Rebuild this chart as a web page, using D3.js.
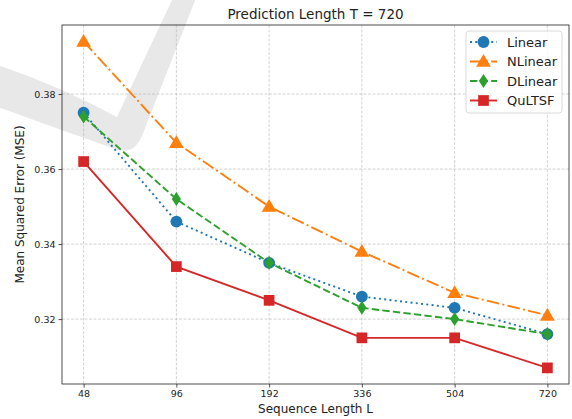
<!DOCTYPE html>
<html>
<head>
<meta charset="utf-8">
<script src="https://cdn.jsdelivr.net/npm/d3@7"></script>
<style>
  body { margin: 0; background: #fff; }
  text { font-family: "DejaVu Sans", sans-serif; fill: #222; }
</style>
</head>
<body>
<div id="chart"></div>
<script>
(function() {
    var width = 572,
        height = 419;

    var seqLengths = ["48", "96", "192", "336", "504", "720"];
    var linearMSE  = [0.375, 0.346, 0.335, 0.326, 0.323, 0.316];
    var nlinearMSE = [0.394, 0.367, 0.350, 0.338, 0.327, 0.321];
    var dlinearMSE = [0.374, 0.352, 0.335, 0.323, 0.320, 0.316];
    var qultsfMSE  = [0.362, 0.334, 0.325, 0.315, 0.315, 0.307];
    var yTicks = [0.32, 0.34, 0.36, 0.38];

    var series = [
        { name: "Linear",  values: linearMSE,  color: "#1f77b4", dash: "2,3.3",          marker: "circle" },
        { name: "NLinear", values: nlinearMSE, color: "#ff7f0e", dash: "12.8,3.2,2,3.2", marker: "triangle" },
        { name: "DLinear", values: dlinearMSE, color: "#2ca02c", dash: "7.4,3.2",        marker: "diamond" },
        { name: "QuLTSF",  values: qultsfMSE,  color: "#d62728", dash: null,             marker: "square" }
    ];

    var margin = { top: 25, right: 3, bottom: 35, left: 62 };
    var innerW = width - margin.left - margin.right,
        innerH = height - margin.top - margin.bottom;

    var svg = d3.select("#chart")
        .append("svg")
        .attr("width", width)
        .attr("height", height);

    // faint grey watermark behind the plot
    svg.append("path")
        .attr("d", "M-5,64 Q60,86 117,117 L173,-2 L196,-2 L142,136 Q134,154 118,150 Q55,128 -5,106 Z")
        .attr("fill", "#e8e8e8");

    var g = svg.append("g")
        .attr("transform", "translate(" + margin.left + "," + margin.top + ")");

    var x = d3.scalePoint()
        .domain(seqLengths)
        .range([0, innerW])
        .padding(0.233);

    var y = d3.scaleLinear()
        .domain([0.3027, 0.3984])
        .range([innerH, 0]);

    // grid
    g.append("g").selectAll("line")
        .data(seqLengths)
        .enter().append("line")
        .attr("x1", function(d) { return x(d); })
        .attr("x2", function(d) { return x(d); })
        .attr("y1", 0).attr("y2", innerH)
        .attr("stroke", "#b0b0b0").attr("stroke-opacity", 0.7)
        .attr("stroke-width", 0.8).attr("stroke-dasharray", "3,1.5");

    g.append("g").selectAll("line")
        .data(yTicks)
        .enter().append("line")
        .attr("y1", function(d) { return y(d); })
        .attr("y2", function(d) { return y(d); })
        .attr("x1", 0).attr("x2", innerW)
        .attr("stroke", "#b0b0b0").attr("stroke-opacity", 0.7)
        .attr("stroke-width", 0.8).attr("stroke-dasharray", "3,1.5");

    // axes
    var xAxis = g.append("g")
        .attr("transform", "translate(0," + innerH + ")")
        .call(d3.axisBottom(x).tickSize(3.5).tickPadding(3));
    var yAxis = g.append("g")
        .call(d3.axisLeft(y).tickValues(yTicks).tickFormat(d3.format(".2f")).tickSize(3.5).tickPadding(3));

    [xAxis, yAxis].forEach(function(a) {
        a.select(".domain").remove();
        a.selectAll("text").style("font-size", "9.5px").attr("fill", "#222");
        a.selectAll(".tick line").attr("stroke", "#222").attr("stroke-width", 0.8);
    });

    g.append("rect")
        .attr("width", innerW).attr("height", innerH)
        .attr("fill", "none").attr("stroke", "#222").attr("stroke-width", 0.8);

    var symbols = {
        circle:   d3.symbol().type(d3.symbolCircle).size(110),
        triangle: d3.symbol().type(d3.symbolTriangle).size(95),
        square:   d3.symbol().type(d3.symbolSquare).size(115)
    };

    function drawMarker(sel, kind, color) {
        if (kind === "diamond") {
            sel.append("path")
                .attr("d", "M0,-7L4.6,0L0,7L-4.6,0Z")
                .attr("fill", color);
        } else {
            sel.append("path")
                .attr("d", symbols[kind]())
                .attr("fill", color)
                .attr("transform", kind === "triangle" ? "translate(0,1)" : null);
        }
    }

    var line = d3.line()
        .x(function(d, i) { return x(seqLengths[i]); })
        .y(function(d) { return y(d); });

    series.forEach(function(s) {
        g.append("path")
            .datum(s.values)
            .attr("d", line)
            .attr("fill", "none")
            .attr("stroke", s.color)
            .attr("stroke-width", 1.9)
            .attr("stroke-dasharray", s.dash);

        g.selectAll(".m-" + s.name)
            .data(s.values)
            .enter().append("g")
            .attr("transform", function(d, i) {
                return "translate(" + x(seqLengths[i]) + "," + y(d) + ")";
            })
            .each(function() { drawMarker(d3.select(this), s.marker, s.color); });
    });

    // legend
    var legend = svg.append("g").attr("transform", "translate(466,31)");
    legend.append("rect")
        .attr("width", 96).attr("height", 82).attr("rx", 3)
        .attr("fill", "#fff").attr("fill-opacity", 0.8)
        .attr("stroke", "#d0d0d0").attr("stroke-width", 0.8);

    series.forEach(function(s, i) {
        var row = legend.append("g").attr("transform", "translate(0," + (11 + i * 19.5) + ")");
        row.append("line")
            .attr("x1", 4).attr("x2", 31)
            .attr("stroke", s.color).attr("stroke-width", 1.9)
            .attr("stroke-dasharray", s.dash);
        var mk = row.append("g").attr("transform", "translate(17.5,0)");
        drawMarker(mk, s.marker, s.color);
        row.append("text")
            .attr("x", 41).attr("y", 0).attr("dy", "0.35em")
            .style("font-size", "13px")
            .text(s.name);
    });

    // labels
    svg.append("text")
        .attr("x", margin.left + innerW / 2).attr("y", 19)
        .attr("text-anchor", "middle")
        .style("font-size", "13.5px")
        .text("Prediction Length T = 720");

    svg.append("text")
        .attr("x", margin.left + innerW / 2).attr("y", 413)
        .attr("text-anchor", "middle")
        .style("font-size", "12px")
        .text("Sequence Length L");

    svg.append("text")
        .attr("transform", "translate(24," + (margin.top + innerH / 2) + ") rotate(-90)")
        .attr("text-anchor", "middle")
        .style("font-size", "12px")
        .text("Mean Squared Error (MSE)");
})();
</script>
</body>
</html>
